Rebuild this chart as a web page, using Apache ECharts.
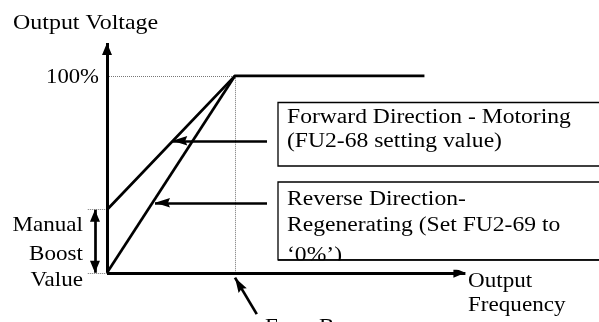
<!DOCTYPE html>
<html>
<head>
<meta charset="utf-8">
<script src="https://cdn.jsdelivr.net/npm/echarts@6/dist/echarts.min.js"></script>
<style>html,body{margin:0;padding:0;background:#fff}#c{width:599px;height:322px}</style>
</head>
<body>
<div id="c"></div>
<script>
// ---- data (x: frequency, base freq = 1; y: output voltage %) ----
const boostValue = 32;            // manual boost, % of output voltage
const baseFreq = 1;
const xAxisEnd = 2.8;
const yAxisEnd = 116.7;
const forwardX = [0, 1, 2.48];
const forwardY = [32, 100, 100];
const reverseX = [0, 1];
const reverseY = [0, 100];
const boostTickX = -0.15;
const boostArrowX = -0.094;
const callout1 = [[1.25, 67], [0.51, 67]];
const callout2 = [[1.25, 35.5], [0.375, 35.5]];
const freqBaseArrow = [[1.17, -21], [1, -2.5]];
const yTickLabel = '100%';
const yTitle = 'Output Voltage';
const xTitleLines = ['Output', 'Frequency'];
const boostLabelLines = ['Manual', 'Boost', 'Value'];
const box1Lines = ['Forward Direction - Motoring', '(FU2-68 setting value)'];
const box2Lines = ['Reverse Direction-', 'Regenerating (Set FU2-69 to', '\u20180%\u2019)'];
const freqBaseLabel = 'Freq. Base';

const FONT = '"Liberation Serif", "Times New Roman", serif';
const zip = (xs, ys) => xs.map((x, i) => [x, ys[i]]);

function seg(coords, opts) {
  return Object.assign({
    type: 'lines', coordinateSystem: 'cartesian2d', polyline: coords.length > 2,
    symbol: ['none', 'none'], symbolSize: 10, silent: true, animation: false,
    lineStyle: { color: '#000', width: 2.7, opacity: 1, type: 'solid' },
    itemStyle: { color: '#000' },
    data: [{ coords: coords }]
  }, opts || {});
}

const dotted = { color: '#777', width: 1, opacity: 1, type: [1, 1] };

const chart = echarts.init(document.getElementById('c'), null, { renderer: 'canvas' });

function txt(text, x, y, size, align, sx, z) {
  return {
    type: 'text', x: x, y: y, scaleX: sx, z: z || 20, silent: true,
    style: { text: text, fill: '#000', font: size + 'px ' + FONT, textAlign: align, textVerticalAlign: 'middle' }
  };
}

const graphics = [];
// boxes
graphics.push({ type: 'rect', shape: { x: 278, y: 102.5, width: 340, height: 63.5 }, z: 5, silent: true,
  style: { fill: '#fff', stroke: '#000', lineWidth: 1.3 } });
graphics.push({ type: 'rect', shape: { x: 278, y: 182, width: 340, height: 78 }, z: 5, silent: true,
  style: { fill: '#fff', stroke: '#000', lineWidth: 1.3 } });
box1Lines.forEach((t, i) => graphics.push(txt(t, 287, [117.5, 141.5][i], 20, 'left', 1.18, 6)));
box2Lines.forEach((t, i) => graphics.push(txt(t, 287, [199.5, 226, 256][i], 20, 'left', 1.18, 6)));
// mask below box 2 to clip text
graphics.push({ type: 'rect', shape: { x: 277, y: 260.7, width: 330, height: 9 }, z: 7, silent: true,
  style: { fill: '#fff' } });
graphics.push({ type: 'line', shape: { x1: 278, y1: 260, x2: 620, y2: 260 }, z: 8, silent: true,
  style: { stroke: '#000', lineWidth: 1.3 } });
// labels
graphics.push(txt(yTitle, 13, 23, 21, 'left', 1.14));
graphics.push(txt(yTickLabel, 99, 77, 21, 'right', 1.08));
boostLabelLines.forEach((t, i) => graphics.push(txt(t, 83, [225, 254, 280][i], 21, 'right', 1.1)));
xTitleLines.forEach((t, i) => graphics.push(txt(t, 468, [281, 305][i], 21, 'left', 1.1)));
graphics.push(txt(freqBaseLabel, 265, 327, 21, 'left', 1.1));

// arrow heads whose tip sits at the symbol centre (i.e. at the line end)
const AR = 'path://M0,-12L0.01,-12M0,0L5,12L-5,12Z';
const ARS = [10, 24];
const AR2 = 'path://M0,-15L0.01,-15M0,0L4.5,15L0,13L-4.5,15Z';
const ARS2 = [9.5, 30];
chart.setOption({
  animation: false,
  grid: { left: 11, top: 280 - 120 * 2.03, width: 3.75 * 128, height: 145 * 2.03 },
  xAxis: { type: 'value', min: -0.75, max: 3.0, show: false },
  yAxis: { type: 'value', min: -25, max: 120, show: false },
  graphic: graphics,
  series: [
    // dotted reference lines
    seg([[0, 100], [baseFreq, 100]], { lineStyle: dotted, z: 1 }),
    seg([[baseFreq, 100], [baseFreq, 0]], { lineStyle: dotted, z: 1 }),
    seg([[boostTickX, boostValue], [0, boostValue]], { lineStyle: dotted, z: 1 }),
    seg([[boostTickX, 0], [0, 0]], { lineStyle: dotted, z: 1 }),
    // axes
    seg([[0, 0], [0, yAxisEnd]], { symbol: ['none', AR], symbolSize: [ARS, ARS], lineStyle: { color: '#000', width: 3, opacity: 1 }, z: 3 }),
    seg([[0, 0], [xAxisEnd, 0]], { symbol: ['none', AR], symbolSize: [ARS, ARS], lineStyle: { color: '#000', width: 3, opacity: 1 }, z: 3 }),
    // V/F curves
    seg(zip(forwardX, forwardY), { z: 3 }),
    seg(zip(reverseX, reverseY), { z: 3 }),
    // callout arrows
    seg(callout1, { symbol: ['none', AR2], symbolSize: [ARS2, ARS2], z: 3 }),
    seg(callout2, { symbol: ['none', AR2], symbolSize: [ARS2, ARS2], z: 3 }),
    seg([[boostArrowX, 0], [boostArrowX, boostValue]], { symbol: [AR, AR], symbolSize: [ARS, ARS], z: 3 }),
    seg(freqBaseArrow, { symbol: ['none', AR2], symbolSize: [ARS2, ARS2], z: 3 })
  ]
});
</script>
</body>
</html>
